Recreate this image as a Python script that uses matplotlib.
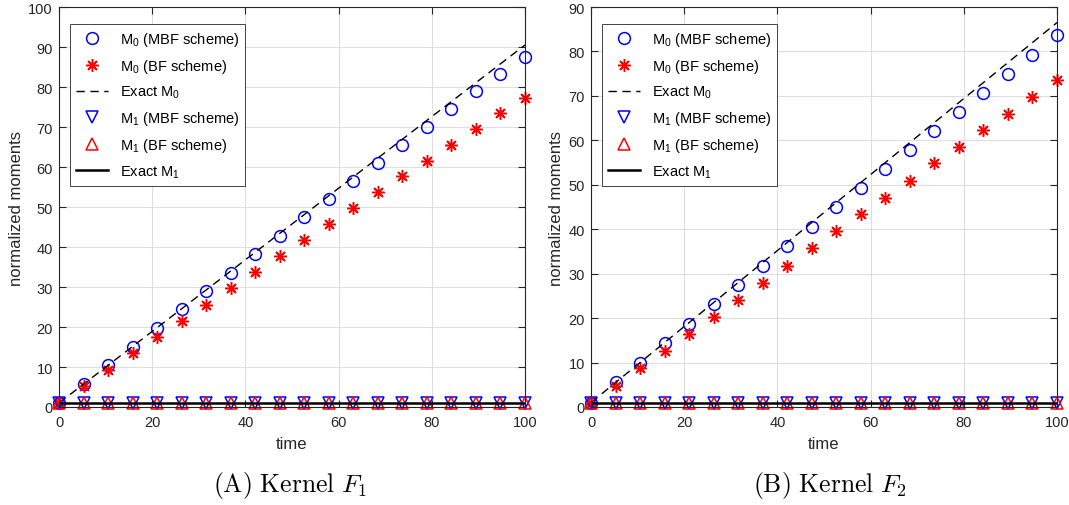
import numpy as np
import matplotlib
matplotlib.use("Agg")
import matplotlib.pyplot as plt

plt.rcParams['font.family'] = ['Liberation Sans', 'DejaVu Sans']
plt.rcParams['mathtext.fontset'] = 'custom'
plt.rcParams['mathtext.rm'] = 'Liberation Sans'
plt.rcParams['mathtext.it'] = 'Liberation Sans:italic'

# data
t = [0, 5.26, 10.53, 15.79, 21.05, 26.32, 31.58, 36.84, 42.11, 47.37,
     52.63, 57.89, 63.16, 68.42, 73.68, 78.95, 84.21, 89.47, 94.74, 100]
t_exact = [0, 100]

# (A) kernel F1
a_m0_mbf = [1, 5.7, 10.4, 15.1, 19.8, 24.4, 29.0, 33.6, 38.2, 42.8,
            47.4, 52.0, 56.5, 61.0, 65.6, 70.0, 74.5, 78.9, 83.3, 87.6]
a_m0_bf = [1, 5.2, 9.3, 13.4, 17.5, 21.6, 25.6, 29.7, 33.7, 37.8,
           41.8, 45.8, 49.8, 53.8, 57.7, 61.6, 65.6, 69.4, 73.4, 77.3]
a_m0_exact = [1, 90.5]

# (B) kernel F2
b_m0_mbf = [1, 5.6, 9.9, 14.3, 18.7, 23.1, 27.5, 31.8, 36.2, 40.6,
            44.9, 49.2, 53.5, 57.8, 62.1, 66.4, 70.7, 75.0, 79.3, 83.6]
b_m0_bf = [1, 4.8, 8.7, 12.6, 16.4, 20.2, 24.1, 28.0, 31.8, 35.7,
           39.5, 43.4, 47.1, 50.9, 54.8, 58.5, 62.3, 66.0, 69.8, 73.6]
b_m0_exact = [1, 86.5]

m1_mbf = [1] * 20
m1_bf = [1] * 20
m1_exact = [1, 1]

panels = [
    (a_m0_mbf, a_m0_bf, a_m0_exact, 100, r"$\mathrm{(A)\ Kernel}\ F_1$"),
    (b_m0_mbf, b_m0_bf, b_m0_exact, 90, r"$\mathrm{(B)\ Kernel}\ F_2$"),
]

fig = plt.figure(figsize=(10.69, 5.06), dpi=100)
lefts = [59 / 1069, 591 / 1069]
caption_x = [290 / 1069, 830 / 1069]

for k, (mbf, bf, ex, ytop, cap) in enumerate(panels):
    ax = fig.add_axes([lefts[k], 98 / 506, 466 / 1069, 400 / 506])
    ax.plot(t, mbf, 'o', color='blue', mfc='none', ms=8.5, mew=1.1,
            label=r'M$_0$ (MBF scheme)', clip_on=False)
    ax.plot(t, bf, linestyle='none', marker=(8, 2, 0), color='red', ms=9, mew=1.1,
            label=r'M$_0$ (BF scheme)', clip_on=False)
    ax.plot(t_exact, ex, '--', color='black', lw=1.0, dashes=(6, 4),
            label=r'Exact M$_0$')
    ax.plot(t, m1_mbf, 'v', color='blue', mfc='none', ms=8.5, mew=1.1,
            label=r'M$_1$ (MBF scheme)', clip_on=False)
    ax.plot(t, m1_bf, '^', color='red', mfc='none', ms=8.5, mew=1.1,
            label=r'M$_1$ (BF scheme)', clip_on=False)
    ax.plot(t_exact, m1_exact, '-', color='black', lw=1.8,
            label=r'Exact M$_1$')

    ax.set_xlim(0, 100)
    ax.set_ylim(0, ytop)
    ax.set_xticks(np.arange(0, 101, 20))
    ax.set_yticks(np.arange(0, ytop + 1, 10))
    ax.grid(True, color='#dedede', lw=0.8)
    ax.set_axisbelow(True)
    ax.tick_params(direction='in', top=True, right=True, labelsize=10.5,
                   length=5, colors='#262626')
    ax.tick_params(axis='x', pad=6)
    ax.tick_params(axis='y', pad=4.5)
    for s in ax.spines.values():
        s.set_color('#262626')
        s.set_linewidth(0.8)
    ax.set_xlabel('time', fontsize=12, color='#262626', labelpad=5)
    ax.set_ylabel('normalized moments', fontsize=12, color='#262626', labelpad=3)
    leg = ax.legend(loc='upper left', bbox_to_anchor=(11 / 466, 1 - 17 / 400),
                    borderaxespad=0, fontsize=10.5, handlelength=2.2,
                    fancybox=False, edgecolor='#262626', framealpha=1,
                    labelspacing=0.62)
    leg.get_frame().set_linewidth(0.6)

    fig.text(caption_x[k], 20 / 506, cap, ha='center', va='center',
             fontsize=18.5, math_fontfamily='cm')

fig.savefig('out.png', dpi=100)
